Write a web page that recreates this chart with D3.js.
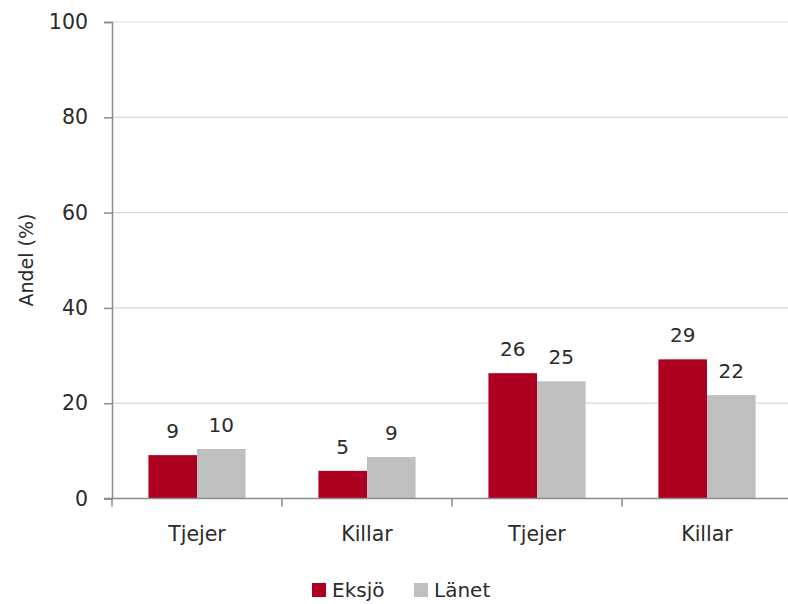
<!DOCTYPE html>
<html><head><meta charset="utf-8">
<script src="https://cdn.jsdelivr.net/npm/d3@7"></script>
<style>body{margin:0;background:#fff}svg{display:block}text{font-family:"DejaVu Sans",sans-serif;fill:#2b2b2b}</style>
</head><body><svg id="c" width="788" height="604"></svg>
<script>
const categories = ["Tjejer", "Killar", "Tjejer", "Killar"];
const seriesNames = ["Eksjö", "Länet"];
const eksjo = [9.1, 5.8, 26.3, 29.2];
const lanet = [10.4, 8.7, 24.6, 21.7];
const eksjoLabels = ["9", "5", "26", "29"];
const lanetLabels = ["10", "9", "25", "22"];
const yTicks = [0, 20, 40, 60, 80, 100];
const colors = ["#ad0021", "#bfbfbf"];

const svg = d3.select("#c");
const m = {l:112, r:792, t:22, b:498.5};
const x0 = d3.scaleBand().domain(d3.range(categories.length)).range([m.l, m.r]).padding(0);
const x1 = d3.scaleBand().domain([0,1]).range([0, x0.bandwidth()]).paddingInner(0).paddingOuter(0.75);
const y = d3.scaleLinear().domain([0,100]).range([m.b, m.t]);

// gridlines
svg.append("g").selectAll("line").data(yTicks.filter(d=>d>0)).join("line")
  .attr("x1", m.l).attr("x2", m.r).attr("y1", d=>y(d)).attr("y2", d=>y(d))
  .attr("stroke", "#d9d9d9").attr("stroke-width", 1.2);

// y axis
const ya = svg.append("g").attr("transform", `translate(${m.l},0)`)
  .call(d3.axisLeft(y).tickValues(yTicks).tickSize(8).tickPadding(16));
ya.select(".domain").attr("stroke", "#8c8c8c").attr("stroke-width", 1.5);
ya.selectAll(".tick line").attr("stroke", "#8c8c8c").attr("stroke-width", 1.5);
ya.selectAll("text").style("font-size", "20.5px").attr("fill", "#2b2b2b");

// bars
const data = categories.map((c,i)=>({i, vals:[eksjo[i], lanet[i]], labs:[eksjoLabels[i], lanetLabels[i]]}));
const g = svg.append("g").selectAll("g").data(data).join("g")
  .attr("transform", d=>`translate(${x0(d.i)},0)`);
g.selectAll("rect").data(d=>d.vals.map((v,k)=>({v,k}))).join("rect")
  .attr("x", d=>x1(d.k)).attr("width", x1.bandwidth())
  .attr("y", d=>y(d.v)).attr("height", d=>y(0)-y(d.v))
  .attr("fill", d=>colors[d.k]);
g.selectAll("text").data(d=>d.vals.map((v,k)=>({v,k,lab:d.labs[k]}))).join("text")
  .attr("x", d=>x1(d.k)+x1.bandwidth()/2).attr("y", d=>y(d.v)-17)
  .attr("text-anchor", "middle").style("font-size", "20px").text(d=>d.lab);

// x axis
const xa = svg.append("g").attr("transform", `translate(0,${m.b})`);
xa.append("line").attr("x1", m.l-8).attr("x2", m.r).attr("stroke", "#8c8c8c").attr("stroke-width", 1.5);
const bounds = d3.range(categories.length+1).map(i => i<categories.length ? x0(i) : x0(i-1)+x0.bandwidth());
xa.selectAll("line.t").data(bounds).join("line").attr("class","t")
  .attr("x1", d=>d).attr("x2", d=>d).attr("y1", 0).attr("y2", 8)
  .attr("stroke", "#8c8c8c").attr("stroke-width", 1.5);
xa.selectAll("text").data(categories).join("text")
  .attr("x", (d,i)=>x0(i)+x0.bandwidth()/2).attr("y", 42)
  .attr("text-anchor", "middle").style("font-size", "20.5px").text(d=>d);

// y title
svg.append("text").attr("transform", "translate(33,260) rotate(-90)")
  .attr("text-anchor", "middle").style("font-size", "19px").text("Andel (%)");

// legend
const lg = svg.append("g");
const legX = [312, 414];
seriesNames.forEach((s,k)=>{
  lg.append("rect").attr("x", legX[k]).attr("y", 583).attr("width", 14).attr("height", 14).attr("fill", colors[k]);
  lg.append("text").attr("x", legX[k]+20).attr("y", 597).style("font-size", "20px").text(s);
});
</script></body></html>
